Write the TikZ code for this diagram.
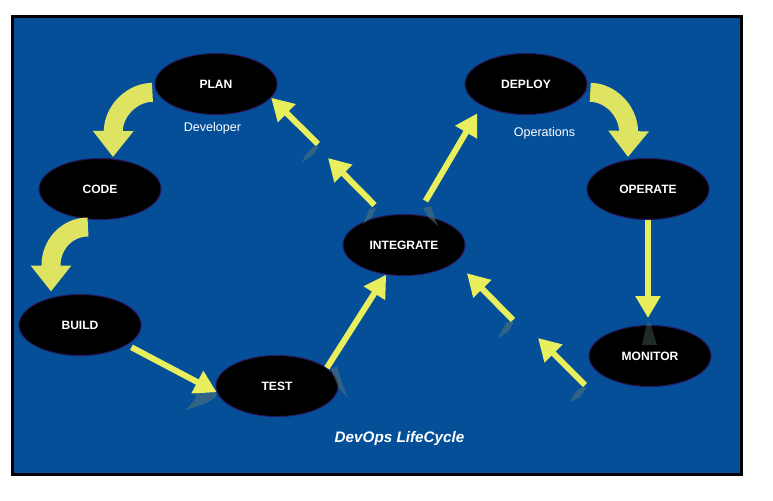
\documentclass[tikz,border=0pt]{standalone}
\usepackage{fontspec}
\setmainfont{Liberation Sans}
\usetikzlibrary{arrows.meta, shapes.geometric, calc}
\definecolor{opsblue}{RGB}{4,79,152}
\definecolor{ringedge}{RGB}{40,22,92}
\definecolor{flowyellow}{RGB}{232,238,92}
\definecolor{bendyellow}{RGB}{222,228,98}
\definecolor{shadowgrey}{RGB}{92,122,120}
\tikzset{
  stagenode/.style={ellipse,fill=black,draw=ringedge,line width=0.03cm,minimum width=3.66cm,minimum height=1.83cm,inner sep=0pt,text=white,font=\fontsize{10.3}{12}\selectfont\bfseries},
  teamlabel/.style={text=white,font=\fontsize{10.7}{12}\selectfont,anchor=base,inner sep=0pt},
  flowarrow/.style={-{Triangle[width=0.72cm,length=0.66cm]},line width=0.18cm,draw=flowyellow},
  bendarrow/.style={-{Triangle[width=1.17cm,length=0.78cm]},line width=0.57cm,draw=bendyellow},
  shadowmark/.style={fill=shadowgrey,draw=none,fill opacity=0.5},
}
\begin{document}
\begin{tikzpicture}[x=0.03cm,y=-0.03cm]
  \useasboundingbox (0,0) rectangle (773,501);
  % frame
  \draw[line width=0.09cm,fill=opsblue] (12.5,16.5) rectangle (741.5,474);
  % stages
  \node[stagenode] (plan)    at (216,84)  {PLAN};
  \node[stagenode] (code)    at (100,189) {CODE};
  \node[stagenode] (build)   at (80,325)  {BUILD};
  \node[stagenode] (test)    at (277,386) {TEST};
  \node[stagenode] (integ)   at (404,245) {INTEGRATE};
  \node[stagenode] (deploy)  at (526,84)  {DEPLOY};
  \node[stagenode] (operate) at (648,189) {OPERATE};
  \node[stagenode] (monitor) at (650,356) {MONITOR};
  \node[teamlabel] (dev) at (212.5,131.5) {Developer};
  \node[teamlabel] (ops) at (544.5,136) {Operations};
  \node[teamlabel,font=\fontsize{13}{15}\selectfont\bfseries\itshape] (title) at (399.5,442) {DevOps LifeCycle};
  % grey smudges behind the arrow ends
  \fill[shadowmark] (195,393) -- (217,393) -- (215,398) -- (204,404) -- (186,410) -- (196,398) -- cycle;
  \fill[shadowmark] (331,369) -- (337,366) -- (342,383) -- (348,398) -- (339,388) -- (334,377) -- cycle;
  \fill[shadowmark,fill opacity=0.35] (647,322) -- (650,322) -- (657,345) -- (642,345) -- cycle;
  \fill[shadowmark] (369,209) -- (376,208) -- (372,217) -- (363,224) -- (367,215) -- cycle;
  \fill[shadowmark] (423,208) -- (431,206) -- (435,219) -- (438,226) -- (429,218) -- cycle;
  \fill[shadowmark] (313,147) -- (319,146) -- (312,156) -- (302,162) -- (306,154) -- cycle;
  \fill[shadowmark] (507,322) -- (514,322) -- (508,332) -- (498,338) -- (502,330) -- cycle;
  \fill[shadowmark] (580,388) -- (587,387) -- (580,397) -- (570,402) -- (574,394) -- cycle;
  % curved arrows
  \draw[bendarrow,shorten <=0.13cm] (plan.188) .. controls +(-24,0) and +(0,-22) .. ++(-43.6,40) -- ($(code.north)+(13,-1)$);
  \draw[bendarrow] ($(code.south)+(-12,7)$) .. controls +(-21,0) and +(0,-21) .. ++(-37,38.5) -- ($(build.north)+(-29,-2.5)$);
  \draw[bendarrow,shorten <=0.15cm] (deploy.-8) .. controls +(24,0) and +(0,-22) .. ++(43.3,39.7) -- ($(operate.north)+(-20,-1)$);
  % straight arrows
  \draw[flowarrow,shorten <=0.15cm] (build.-23) -- (test.186);
  \draw[flowarrow] (test.20) -- (integ.239);
  \draw[flowarrow,shorten <=0.48cm,shorten >=0.27cm] (integ.66) -- (deploy.206);
  \coordinate (devgapA) at (328,158);
  \coordinate (devgapB) at (318,144);
  \draw[flowarrow,shorten <=0.44cm] (integ.123) -- (devgapA);
  \draw[flowarrow] (devgapB) -- (plan.-14.5);
  \draw[flowarrow,shorten >=0.21cm] (operate.south) -- (operate.south |- monitor.north);
  \coordinate (opsgapA) at (585,385);
  \coordinate (opsgapB) at (538,338);
  \coordinate (opsgapC) at (513,320);
  \draw[flowarrow] (opsgapA) -- (opsgapB);
  \draw[flowarrow,shorten >=0.48cm] (opsgapC) -- (integ.-18);
\end{tikzpicture}
\end{document}
